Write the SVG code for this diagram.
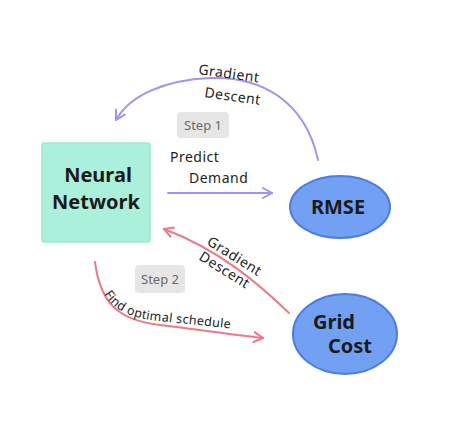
<svg xmlns="http://www.w3.org/2000/svg" width="454" height="429" viewBox="0 0 454 429">
<style>
.lbl{font-family:"Noto Sans","DejaVu Sans",sans-serif;font-size:14px;fill:#222;letter-spacing:0.5px}
.node{font-family:"Noto Sans","DejaVu Sans",sans-serif;font-weight:bold;font-size:20px;fill:#1a1a1a;text-anchor:middle}
.step{font-family:"Noto Sans","DejaVu Sans",sans-serif;font-size:13px;fill:#6a6a6a;text-anchor:middle}
.stepbox{fill:#e6e6e6}
.pur{fill:none;stroke:#a690f2;stroke-width:2;stroke-linecap:round}
.red{fill:none;stroke:#ec7a88;stroke-width:2;stroke-linecap:round}
.blob{fill:#72a0f2;stroke:#4a7ce6;stroke-width:2}
</style>
<defs>
<marker id="ap" viewBox="0 0 12 12" refX="10" refY="6" markerWidth="12" markerHeight="12" markerUnits="userSpaceOnUse" orient="auto"><path d="M1,1 L10,6 L1,11" fill="none" stroke="#a690f2" stroke-width="2" stroke-linecap="round" stroke-linejoin="round"/></marker>
<marker id="ar" viewBox="0 0 12 12" refX="10" refY="6" markerWidth="12" markerHeight="12" markerUnits="userSpaceOnUse" orient="auto"><path d="M1,1 L10,6 L1,11" fill="none" stroke="#ec7a88" stroke-width="2" stroke-linecap="round" stroke-linejoin="round"/></marker>
<path id="fpath" d="M104,294 Q118,318 160,321 L245,330"/>
</defs>
<rect width="454" height="429" fill="#ffffff"/>
<g id="connectors">
<path class="pur" d="M318,160 C305,100 260,76 210,78 C165,80 130,95 116,120" marker-end="url(#ap)"/>
<path class="pur" d="M168,193 L272,193" marker-end="url(#ap)"/>
<path class="red" d="M289,313 C260,285 220,250 164,229" marker-end="url(#ar)"/>
<path class="red" d="M95,262 C100,300 115,320 160,325 C200,330 235,335 263,338" marker-end="url(#ar)"/>
<text class="lbl" transform="translate(198,74) rotate(8)">Gradient</text>
<text class="lbl" transform="translate(204,97) rotate(8)">Descent</text>
<text class="lbl" x="170" y="162">Predict</text>
<text class="lbl" x="189" y="183">Demand</text>
<text class="lbl" transform="translate(206,244) rotate(32)">Gradient</text>
<text class="lbl" transform="translate(198,259) rotate(32)">Descent</text>
<text class="lbl" style="font-size:12.5px;letter-spacing:0.3px"><textPath href="#fpath">Find optimal schedule</textPath></text>
</g>
<g id="step1">
<rect class="stepbox" x="177" y="112" width="52" height="26" rx="4"/>
<text class="step" x="203" y="130">Step 1</text>
</g>
<g id="step2">
<rect class="stepbox" x="135" y="265" width="50" height="28" rx="4"/>
<text class="step" x="160" y="284">Step 2</text>
</g>
<g id="neural-network">
<rect x="42" y="143" width="108" height="99" fill="#abf0da" stroke="#9ce8cf" stroke-width="1.5" rx="2"/>
<text class="node" x="98" y="182">Neural</text>
<text class="node" x="96" y="209">Network</text>
</g>
<g id="rmse">
<ellipse class="blob" cx="340" cy="207" rx="50" ry="31"/>
<text class="node" x="338" y="214">RMSE</text>
</g>
<g id="grid-cost">
<ellipse class="blob" cx="345" cy="334" rx="52" ry="40"/>
<text class="node" x="334" y="329">Grid</text>
<text class="node" x="350" y="353">Cost</text>
</g>
</svg>
